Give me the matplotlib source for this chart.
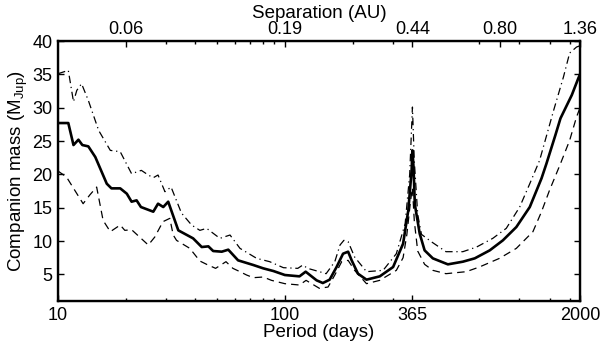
import matplotlib
matplotlib.use('Agg')
import matplotlib.pyplot as plt
from matplotlib.ticker import FixedLocator, NullFormatter

plt.rcParams['font.family'] = ['Liberation Sans', 'DejaVu Sans']
plt.rcParams['mathtext.fontset'] = 'custom'
plt.rcParams['mathtext.rm'] = 'Liberation Sans'

# median mass limit (solid)
period_mid = [10, 11.1, 11.7, 12.3, 12.8, 13.6, 14.6, 16.4, 17.2, 18.8, 20.1, 21.1, 22.2, 23.2,
              26.3, 27.6, 29.1, 30.6, 33.9, 39.4, 43.0, 46.0, 48.3, 52.7, 56.3, 62.2, 72.6,
              80.3, 89, 100, 116, 123.5, 138, 147, 157.5, 169, 180.5, 190, 197, 210, 229, 262,
              300, 332, 350, 362, 365, 369, 374, 393, 413, 449, 523, 609, 687, 800, 914, 1048,
              1201, 1353, 1422, 1558, 1640, 1840, 1965, 2000]
mass_mid = [27.7, 27.7, 24.4, 25.2, 24.4, 24.2, 22.6, 18.6, 17.9, 17.9, 17.1, 15.9, 16.1, 15.1,
            14.4, 15.6, 15.1, 15.9, 11.6, 10.4, 9.1, 9.2, 8.5, 8.4, 8.7, 7.1, 6.4,
            5.9, 5.5, 4.9, 4.7, 5.4, 4.1, 3.7, 4.2, 6.1, 8.1, 8.4, 7.1, 5.1, 4.2, 4.7,
            6.1, 9.6, 14.6, 20.6, 23.6, 21.1, 15.5, 11.1, 8.6, 7.4, 6.5, 6.9, 7.4, 8.6, 10.1, 12.1,
            15.1, 19.4, 21.6, 25.9, 28.4, 31.9, 34.4, 35.0]

# lower limit (dashed)
period_low = [10, 10.9, 12.9, 13.8, 14.8, 15.8, 17.0, 18.8, 19.7, 21.1, 25, 26.7, 29, 31.1,
              32.2, 33.3, 38.1, 42.2, 45.2, 49.5, 55, 59, 63.4, 67.8, 72.6, 80.3, 87.3, 100,
              116, 124, 142, 155, 166, 178, 190, 203, 229, 262, 310, 332, 345, 358, 365, 372,
              385, 413, 449, 513, 630, 720, 883, 1048, 1240, 1353, 1467, 1640, 1800, 1930, 2000]
mass_low = [20.5, 19.6, 15.6, 16.9, 18.1, 13.1, 11.4, 12.4, 11.6, 11.7, 9.4, 10.6, 12.9, 13.4,
            10.9, 10.1, 8.9, 7.0, 6.5, 5.9, 6.9, 5.9, 5.4, 4.9, 4.5, 4.6, 4.1, 3.6,
            3.4, 4.1, 2.9, 3.1, 4.9, 6.9, 7.1, 5.6, 3.6, 4.1, 5.6, 7.5, 11.0, 16.0, 18.0, 13.0,
            8.5, 6.5, 5.6, 5.1, 5.4, 6.1, 7.4, 8.9, 11.4, 14.4, 17.6, 21.6, 25.1, 28.6, 30.0]

# upper limit (dash-dot)
period_up = [10, 11.1, 11.7, 12.1, 12.7, 13.6, 15.1, 17, 18.8, 21.1, 23.3, 25, 26.3, 27.6,
             29.6, 31.5, 35, 38.8, 42.2, 45.2, 51.7, 57.3, 63.4, 75.1, 85.7, 98.5, 114, 120,
             126, 142, 152, 166, 175, 182, 190, 203, 229, 271, 310, 339, 355, 365, 372, 385,
             400, 442, 513, 609, 700, 825, 946, 1084, 1201, 1327, 1530, 1690, 1800, 1930, 2000]
mass_up = [35.1, 35.6, 30.9, 32.6, 33.6, 31.1, 26.6, 23.6, 23.4, 20.1, 20.6, 19.9, 19.5, 19.9,
           17.4, 18.1, 14.2, 12.4, 11.6, 11.9, 10.4, 10.9, 8.9, 7.4, 6.9, 6.0, 5.9, 6.4,
           5.9, 5.4, 5.1, 6.9, 9.4, 10.1, 9.9, 7.6, 5.4, 5.6, 8.1, 12.6, 20.0, 30.1, 22.0, 14.0,
           11.0, 9.9, 8.4, 8.4, 9.1, 10.4, 11.9, 15.1, 18.6, 22.1, 29.6, 34.6, 38.2, 39.1, 39.3]

period_ticks = [10, 100, 365, 2000]
period_minor = [20, 30, 40, 50, 60, 70, 80, 90, 200, 300, 720, 1080, 1470, 1800]
sep_ticks = [20, 100, 365, 885, 2000]
sep_labels = ['0.06', '0.19', '0.44', '0.80', '1.36']

fig = plt.figure(figsize=(6, 3.45), dpi=100)
ax = fig.add_axes([0.0967, 0.1275, 0.87, 0.7535])

ax.plot(period_up, mass_up, color='black', lw=0.9, ls=(0, (6, 3, 1, 3)))
ax.plot(period_low, mass_low, color='black', lw=0.9, ls=(0, (6, 4)))
ax.plot(period_mid, mass_mid, color='black', lw=1.9)

ax.set_xscale('log')
ax.set_xlim(10, 2000)
ax.set_ylim(1, 40)
ax.xaxis.set_major_locator(FixedLocator(period_ticks))
ax.xaxis.set_minor_locator(FixedLocator(period_minor))
ax.set_xticklabels([str(t) for t in period_ticks])
ax.xaxis.set_minor_formatter(NullFormatter())
ax.set_yticks([5, 10, 15, 20, 25, 30, 35, 40])
ax.tick_params(which='major', direction='in', length=4.5, width=1, labelsize=13, pad=4,
               right=True)
ax.tick_params(which='minor', direction='in', length=2.2, width=1)
ax.set_xlabel('Period (days)', fontsize=13.5, labelpad=0)
ax.set_ylabel('Companion mass (M$_{\\mathrm{Jup}}$)', fontsize=13.5, labelpad=2)
for s in ax.spines.values():
    s.set_linewidth(1.7)

top = ax.twiny()
top.set_xscale('log')
top.set_xlim(10, 2000)
top.xaxis.set_major_locator(FixedLocator(sep_ticks))
top.xaxis.set_minor_locator(FixedLocator(period_minor))
top.set_xticklabels(sep_labels)
top.xaxis.set_minor_formatter(NullFormatter())
top.tick_params(which='major', direction='in', length=4.5, width=1, labelsize=13, pad=2)
top.tick_params(which='minor', direction='in', length=2.2, width=1)
top.set_xlabel('Separation (AU)', fontsize=13.5, labelpad=2)

fig.savefig('out.png', dpi=100)
